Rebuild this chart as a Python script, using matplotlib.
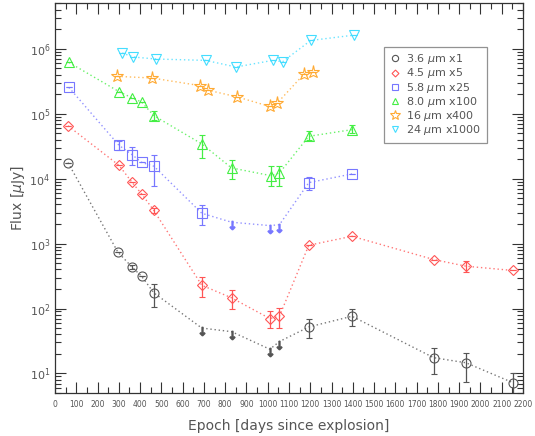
import numpy as np
import matplotlib
matplotlib.use('Agg')
import matplotlib.pyplot as plt
from matplotlib.ticker import MultipleLocator, FixedLocator, NullFormatter, LogFormatterSciNotation

# 3.6 um x1
ep36 = [61, 296, 363, 407, 465, 690, 830, 1010, 1055, 1193, 1396, 1780, 1932, 2153]
fl36 = [17600, 735, 431, 314, 174, 50, 44, 23.6, 31, 52, 76, 17.5, 14.6, 7.2]
lo36 = [0, 0, 30, 0, 68, 0, 0, 0, 0, 17, 22, 7.8, 7.2, 2.5]
hi36 = [0, 0, 40, 0, 66, 0, 0, 0, 0, 17, 23, 7.5, 6.4, 3.0]
ul36 = [0, 0, 0, 0, 0, 1, 1, 1, 1, 0, 0, 0, 0, 0]

# 4.5 um x5
ep45 = [61, 301, 362, 407, 464, 690, 830, 1010, 1055, 1193, 1396, 1780, 1932, 2153]
fl45 = [65000, 16000, 8770, 5820, 3250, 228, 146, 70, 76, 942, 1295, 568, 448, 385]
lo45 = [0, 0, 0, 0, 300, 77, 47, 20, 26, 0, 0, 0, 82, 0]
hi45 = [0, 0, 0, 0, 300, 74, 49, 22, 26, 0, 0, 0, 87, 0]
ul45 = [0] * 14

# 5.8 um x25
ep58 = [65, 301, 362, 407, 465, 690, 830, 1010, 1055, 1193, 1396]
fl58 = [254000, 32500, 23400, 17800, 15500, 2930, 2130, 1890, 1950, 8670, 11800]
lo58 = [0, 5000, 7400, 0, 7700, 1030, 0, 0, 0, 1900, 0]
hi58 = [0, 5000, 7600, 0, 7300, 970, 0, 0, 0, 2100, 0]
ul58 = [0, 0, 0, 0, 0, 0, 1, 1, 1, 0, 0]

# 8.0 um x100
ep80 = [65, 301, 362, 407, 465, 690, 830, 1015, 1055, 1193, 1396]
fl80 = [616000, 218000, 175000, 151000, 93000, 34200, 14600, 11100, 12200, 44800, 56700]
lo80 = [0, 0, 0, 0, 13000, 13200, 4900, 3300, 4400, 5000, 6200]
hi80 = [0, 0, 0, 0, 18000, 13300, 4600, 4400, 3300, 8700, 10300]
ul80 = [0] * 11

# 16 um x400
ep16 = [293, 456, 682, 721, 857, 1010, 1045, 1172, 1215]
fl16 = [375000, 354000, 270000, 229000, 181000, 129000, 146000, 412000, 433000]

# 24 um x1000
ep24 = [316, 368, 475, 708, 851, 1023, 1070, 1202, 1406]
fl24 = [859000, 745000, 694000, 661000, 523000, 661000, 631000, 1340000, 1620000]

labels = [r'3.6 $\mu$m x1', r'4.5 $\mu$m x5', r'5.8 $\mu$m x25',
          r'8.0 $\mu$m x100', r'16 $\mu$m x400', r'24 $\mu$m x1000']

txt = '#555555'
plt.rcParams['font.family'] = ['DejaVu Sans']
plt.rcParams['mathtext.fontset'] = 'dejavusans'

fig = plt.figure(figsize=(5.35, 4.36), dpi=100)
ax = fig.add_axes([0.1028, 0.0986, 0.8748, 0.8938])


def draw(ep, fl, lo, hi, ul, color, marker, ms, label):
    ep = np.array(ep, float)
    fl = np.array(fl, float)
    lo = np.array(lo, float)
    hi = np.array(hi, float)
    ul = np.array(ul, bool)
    ax.plot(ep, fl, ls=(0, (1, 2)), color=color, lw=1.0, alpha=0.8, zorder=1)
    det = ~ul
    ax.errorbar(ep[det], fl[det], yerr=[lo[det], hi[det]], fmt=marker, ms=ms,
                mfc='none', mec=color, mew=0.8, ecolor=color, elinewidth=0.9,
                capsize=2.5, capthick=0.9, zorder=2)
    if ul.any():
        ax.plot(ep[ul], fl[ul] * 0.9, ls='none', marker=r'$\downarrow$', ms=6,
                color=color, zorder=2)
    ax.plot([], [], ls='none', marker=marker, ms=ms - 2, mfc='none', mec=color,
            mew=0.8, label=label)


draw(ep36, fl36, lo36, hi36, ul36, '#555555', 'o', 6.5, labels[0])
draw(ep45, fl45, lo45, hi45, ul45, '#ff5555', 'D', 5.5, labels[1])
draw(ep58, fl58, lo58, hi58, ul58, '#7777ff', 's', 6.5, labels[2])
draw(ep80, fl80, lo80, hi80, ul80, '#44ee44', '^', 6.5, labels[3])
draw(ep16, fl16, [0] * 9, [0] * 9, [0] * 9, '#ffaa33', '*', 9.5, labels[4])
draw(ep24, fl24, [0] * 9, [0] * 9, [0] * 9, '#44ddff', 'v', 6.5, labels[5])

ax.set_yscale('log')
ax.set_xlim(0, 2200)
ax.set_ylim(5, 5e6)

ax.xaxis.set_major_locator(MultipleLocator(100))
ax.xaxis.set_minor_locator(MultipleLocator(50))
decades = [10.0 ** k for k in range(1, 7)]
minors = [m * 10.0 ** k for k in range(0, 7) for m in range(2, 10)
          if 5 <= m * 10.0 ** k <= 5e6]
ax.yaxis.set_major_locator(FixedLocator(decades))
ax.yaxis.set_major_formatter(LogFormatterSciNotation())
ax.yaxis.set_minor_locator(FixedLocator(minors))
ax.yaxis.set_minor_formatter(NullFormatter())

ax.tick_params(which='both', direction='in', top=True, right=True, colors='#333333')
ax.tick_params(which='major', length=8, width=0.8)
ax.tick_params(which='minor', length=4, width=0.8)
ax.tick_params(axis='x', labelsize=5.5, labelcolor=txt, pad=5)
ax.tick_params(axis='y', labelsize=8, labelcolor=txt)
for s in ax.spines.values():
    s.set_color('#333333')
    s.set_linewidth(0.9)

ax.set_xlabel('Epoch [days since explosion]', fontsize=10, color=txt, labelpad=7)
ax.set_ylabel(r'Flux [$\mu$Jy]', fontsize=10, color=txt, labelpad=2)

leg = ax.legend(loc='upper left', bbox_to_anchor=(0.718, 0.893),
                bbox_transform=fig.transFigure, prop={'size': 8}, frameon=True,
                fancybox=False, edgecolor='#777777', handletextpad=0.5,
                handlelength=1.0, labelspacing=0.02, borderpad=0.5,
                borderaxespad=0)
leg.get_frame().set_linewidth(0.9)
for t in leg.get_texts():
    t.set_color(txt)

fig.savefig('out.png', dpi=100)
